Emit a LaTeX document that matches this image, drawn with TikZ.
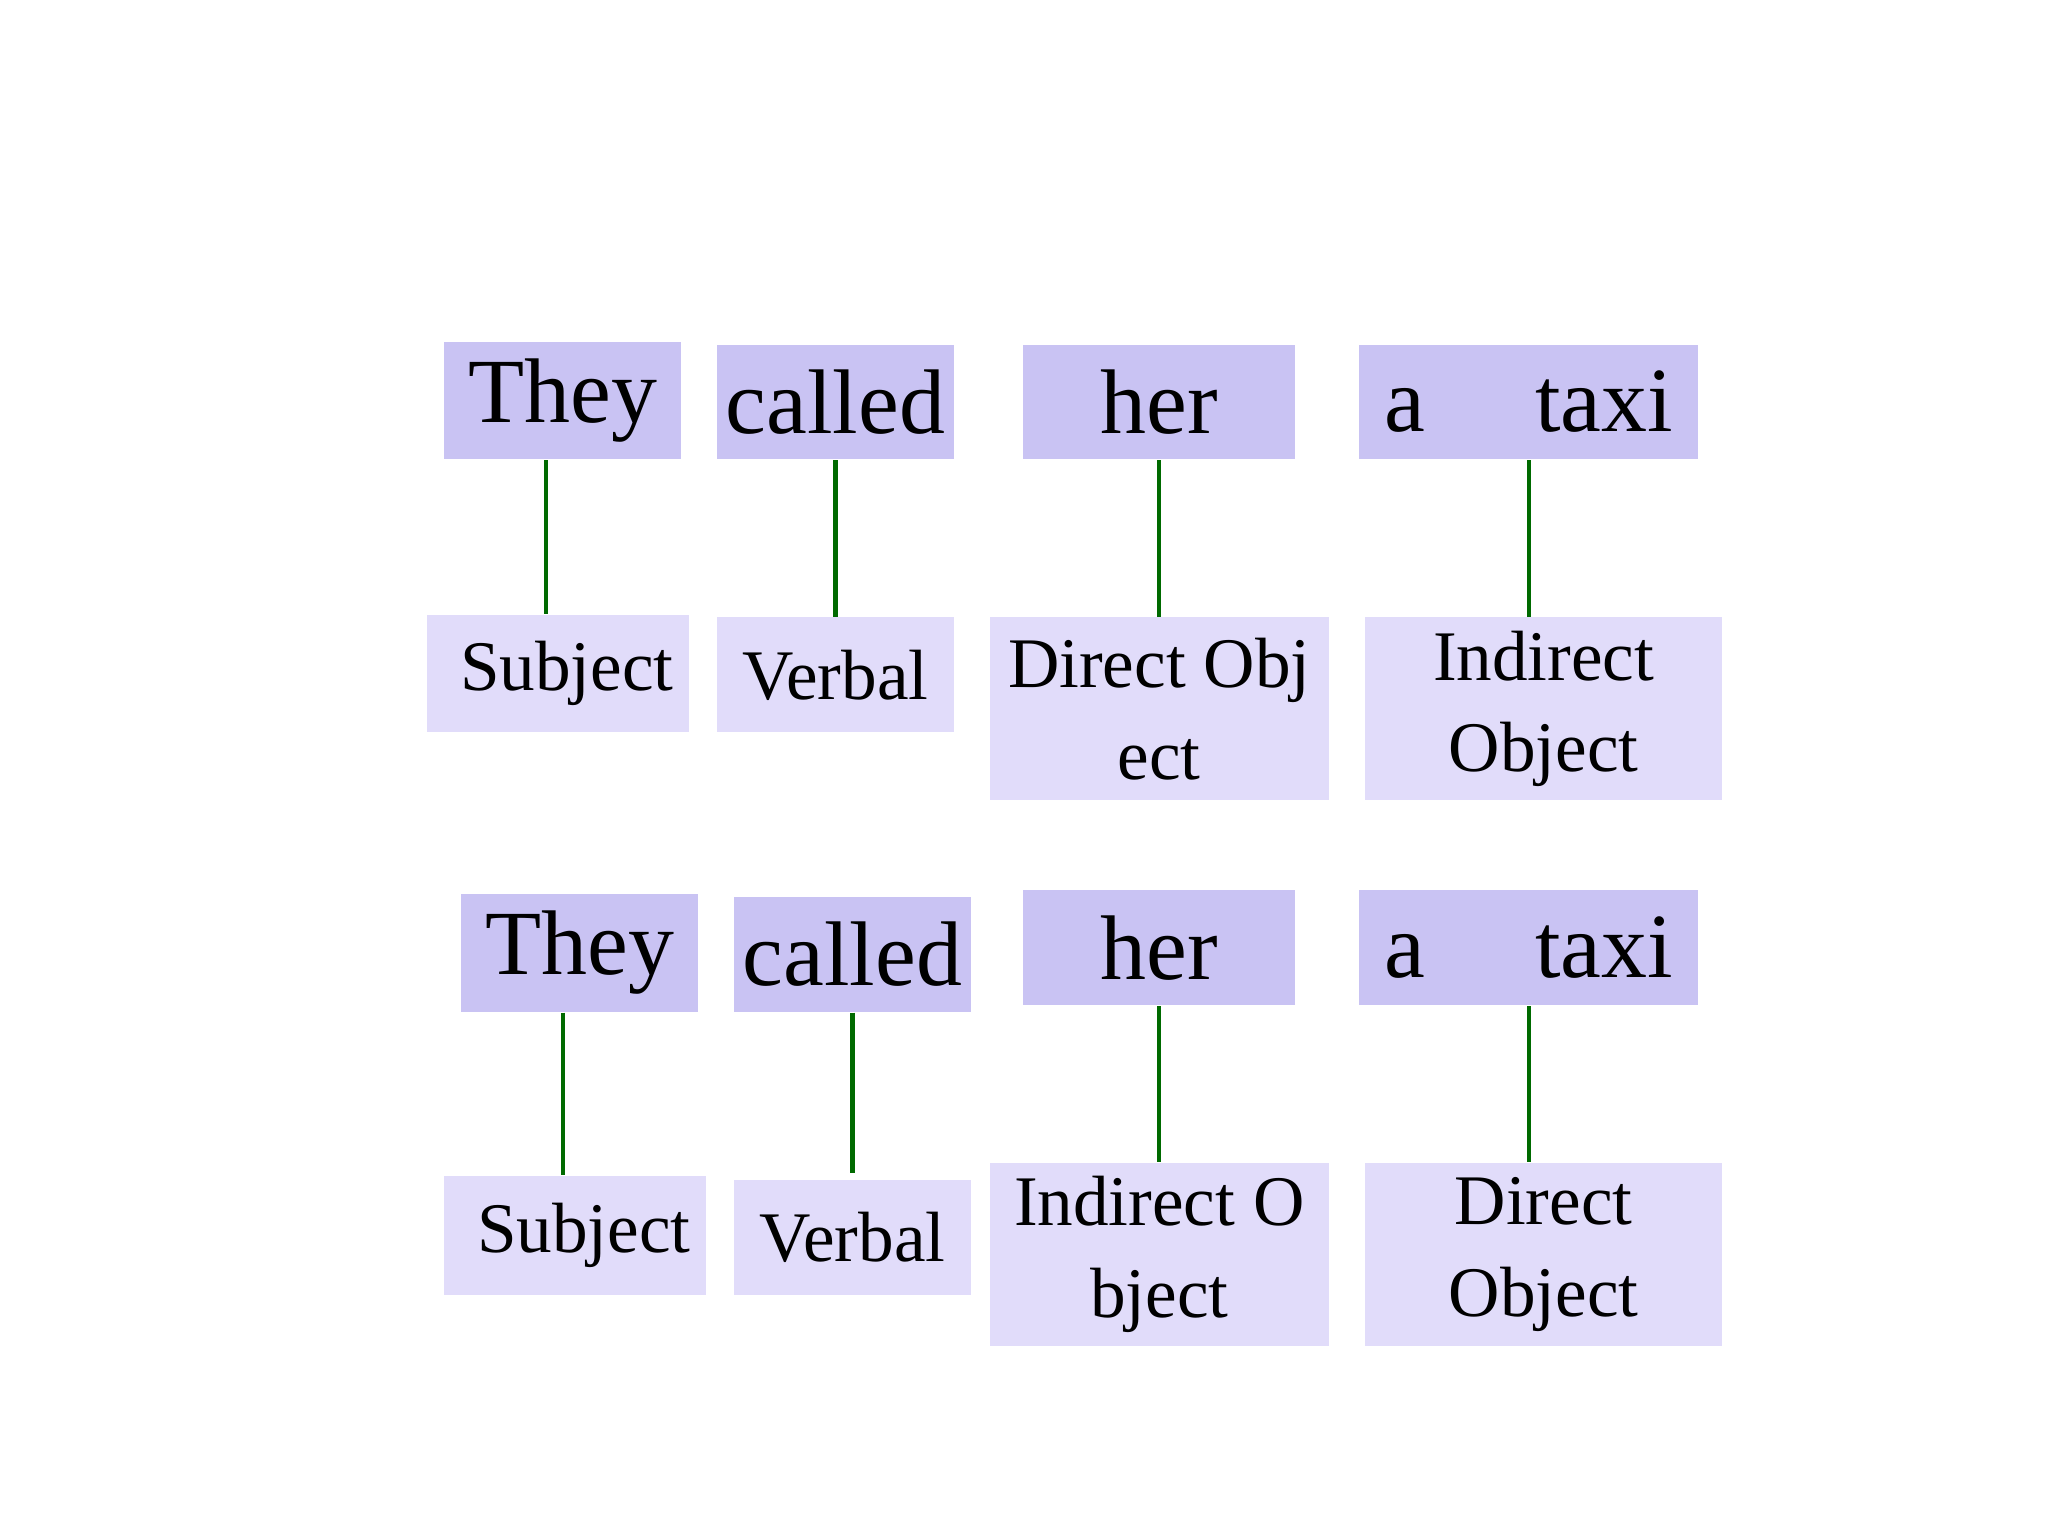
\documentclass[tikz,border=0pt]{standalone}
\usepackage{fontspec}
\setmainfont{Liberation Serif}
\definecolor{dk}{HTML}{C9C3F3}
\definecolor{lt}{HTML}{E1DCFA}
\definecolor{ln}{HTML}{006A00}
\tikzset{
  top/.style={fill=dk, inner sep=0pt, font=\fontsize{20}{22}\selectfont},
  lab/.style={fill=lt, inner sep=0pt, align=center, font=\fontsize{15.5}{20}\selectfont},
  con/.style={draw=ln, line width=0.9pt}
}
\newcommand{\bx}[7]{% name style x1 y1 x2 y2 text
  \node[#2, minimum width={(#5-#3)*0.01cm}, minimum height={(#6-#4)*0.01cm}] (#1) at ({(#3+#5)/2*0.01},{-(#4+#6)/2*0.01}) {#7};}
\begin{document}
\begin{tikzpicture}
\useasboundingbox (0,0) rectangle (15.68,-11.76);
\bx{a1}{top}{340}{262}{522}{352}{They}
\bx{a2}{top}{549}{264}{731}{352}{called}
\bx{a3}{top}{784}{264}{992}{352}{her}
\bx{a4}{top}{1041}{264}{1301}{352}{a\hspace{1.2em}taxi}
\bx{b1}{lab}{327}{471}{528}{561}{\ Subject}
\bx{b2}{lab}{549}{473}{731}{561}{Verbal}
\bx{b3}{lab}{758}{473}{1018}{613}{Direct Obj\\ect}
\bx{b4}{lab}{1046}{473}{1319}{613}{Indirect\\Object}
\bx{c1}{top}{353}{685}{535}{775}{They}
\bx{c2}{top}{562}{687}{744}{775}{called}
\bx{c3}{top}{784}{682}{992}{770}{her}
\bx{c4}{top}{1041}{682}{1301}{770}{a\hspace{1.2em}taxi}
\bx{d1}{lab}{340}{901}{541}{992}{\ Subject}
\bx{d2}{lab}{562}{904}{744}{992}{Verbal}
\bx{d3}{lab}{758}{891}{1018}{1031}{Indirect O\\bject}
\bx{d4}{lab}{1046}{891}{1319}{1031}{Direct\\Object}
\draw[con] ([xshift=-0.13cm]a1.south) -- ([xshift=-0.13cm]a1.south |- b1.north);
\draw[con] (a2.south) -- (a2.south |- b2.north);
\draw[con] ([xshift=0.0cm]a3.south) -- ([xshift=0.0cm]a3.south |- b3.north);
\draw[con] (a4.south) -- (a4.south |- b4.north);
\draw[con] ([xshift=-0.13cm]c1.south) -- ([xshift=-0.13cm]c1.south |- d1.north);
\draw[con] (c2.south) -- ([yshift=0.05cm]c2.south |- d2.north);
\draw[con] (c3.south) -- (c3.south |- d3.north);
\draw[con] (c4.south) -- (c4.south |- d4.north);
\end{tikzpicture}
\end{document}
